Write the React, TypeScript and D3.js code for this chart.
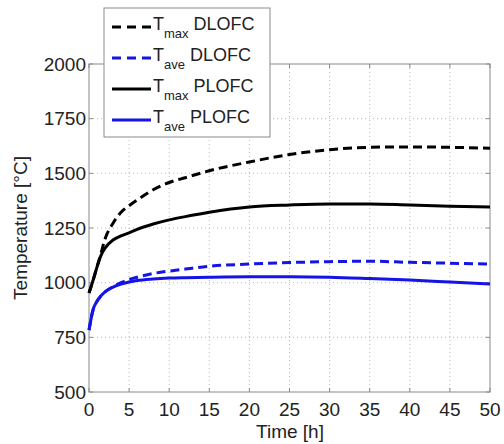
import React from "react";
import * as d3 from "d3";

const time = [0, 0.5, 1, 1.5, 2, 3, 4, 5, 6, 8, 10, 12, 15, 20, 25, 30, 35, 40, 45, 50];
const tmaxDLOFC = [953, 1010, 1072, 1135, 1200, 1272, 1322, 1352, 1378, 1425, 1458, 1480, 1512, 1552, 1586, 1608, 1619, 1621, 1619, 1615];
const tmaxPLOFC = [953, 1010, 1072, 1125, 1158, 1195, 1214, 1228, 1244, 1268, 1287, 1302, 1322, 1346, 1355, 1360, 1360, 1355, 1350, 1346];
const taveDLOFC = [783, 875, 915, 940, 958, 982, 1000, 1015, 1025, 1042, 1053, 1062, 1075, 1085, 1092, 1096, 1098, 1093, 1089, 1085];
const tavePLOFC = [783, 875, 915, 940, 958, 980, 994, 1003, 1010, 1017, 1021, 1023, 1025, 1027, 1027, 1025, 1019, 1012, 1003, 994];

const xTicks = [0, 5, 10, 15, 20, 25, 30, 35, 40, 45, 50];
const yTicks = [500, 750, 1000, 1250, 1500, 1750, 2000];

const seriesNames = ["DLOFC", "DLOFC", "PLOFC", "PLOFC"];
const seriesSubs = ["max", "ave", "max", "ave"];

export default function App() {
  const W = 504, H = 444;
  const L = 89, R = 490, T = 64, B = 392;
  const x = d3.scaleLinear().domain([0, 50]).range([L, R]);
  const y = d3.scaleLinear().domain([500, 2000]).range([B, T]);
  const font = "'Liberation Sans', Arial, sans-serif";
  const axisColor = "#8a8a8a";
  const blue = "#1414e6";

  const series = [
    { vals: tmaxDLOFC, color: "#000", dash: "9,5" },
    { vals: taveDLOFC, color: blue, dash: "9,5" },
    { vals: tmaxPLOFC, color: "#000", dash: null },
    { vals: tavePLOFC, color: blue, dash: null },
  ];

  const line = (vals: number[]) =>
    d3
      .line<number>()
      .x((_, i) => x(time[i]))
      .y((v) => y(v))
      .curve(d3.curveMonotoneX)(vals) || "";

  const legendRows = [27, 58, 89, 120];

  return (
    <svg
      width={W}
      height={H}
      style={{ position: "absolute", left: 0, top: 0, background: "#fff" }}
      fontFamily={font}
    >
      <rect x={0} y={0} width={W} height={H} fill="#fff" />
      {/* grid */}
      {xTicks.slice(1, -1).map((t) => (
        <line key={"gx" + t} x1={x(t)} x2={x(t)} y1={T} y2={B} stroke="#b8b8b8" strokeWidth={1} strokeDasharray="1,3" />
      ))}
      {yTicks.slice(1, -1).map((t) => (
        <line key={"gy" + t} x1={L} x2={R} y1={y(t)} y2={y(t)} stroke="#b8b8b8" strokeWidth={1} strokeDasharray="1,3" />
      ))}
      {/* ticks */}
      {xTicks.map((t) => (
        <g key={"tx" + t}>
          <line x1={x(t)} x2={x(t)} y1={B} y2={B - 4} stroke={axisColor} />
          <line x1={x(t)} x2={x(t)} y1={T} y2={T + 4} stroke={axisColor} />
          <text x={x(t)} y={416} textAnchor="middle" fontSize={19} fill="#222">
            {t}
          </text>
        </g>
      ))}
      {yTicks.map((t) => (
        <g key={"ty" + t}>
          <line x1={L} x2={L + 4} y1={y(t)} y2={y(t)} stroke={axisColor} />
          <line x1={R} x2={R - 4} y1={y(t)} y2={y(t)} stroke={axisColor} />
          <text x={86} y={y(t)} dy="0.35em" textAnchor="end" fontSize={19} fill="#222">
            {t}
          </text>
        </g>
      ))}
      <rect x={L} y={T} width={R - L} height={B - T} fill="none" stroke={axisColor} strokeWidth={1} />
      {/* data */}
      {series.map((s, i) => (
        <path
          key={"s" + i}
          d={line(s.vals)}
          fill="none"
          stroke={s.color}
          strokeWidth={3}
          strokeDasharray={s.dash || undefined}
        />
      ))}
      {/* axis labels */}
      <text x={290} y={438} textAnchor="middle" fontSize={19} fill="#222">
        Time [h]
      </text>
      <text
        transform={`translate(27,${(T + B) / 2}) rotate(-90)`}
        textAnchor="middle"
        fontSize={19}
        fill="#222"
      >
        Temperature [°C]
      </text>
      {/* legend */}
      <rect x={104} y={8} width={166} height={129} fill="#fff" stroke={axisColor} strokeWidth={1} />
      {series.map((s, i) => (
        <g key={"lg" + i}>
          <line
            x1={112}
            x2={151}
            y1={legendRows[i]}
            y2={legendRows[i]}
            stroke={s.color}
            strokeWidth={3}
            strokeDasharray={s.dash ? "9,6" : undefined}
          />
          <text x={153} y={legendRows[i] + 3} fontSize={18} fill="#222">
            T
            <tspan fontSize={13} dy={8}>
              {seriesSubs[i]}
            </tspan>
            <tspan dy={-8} dx={5}>
              {seriesNames[i]}
            </tspan>
          </text>
        </g>
      ))}
    </svg>
  );
}
